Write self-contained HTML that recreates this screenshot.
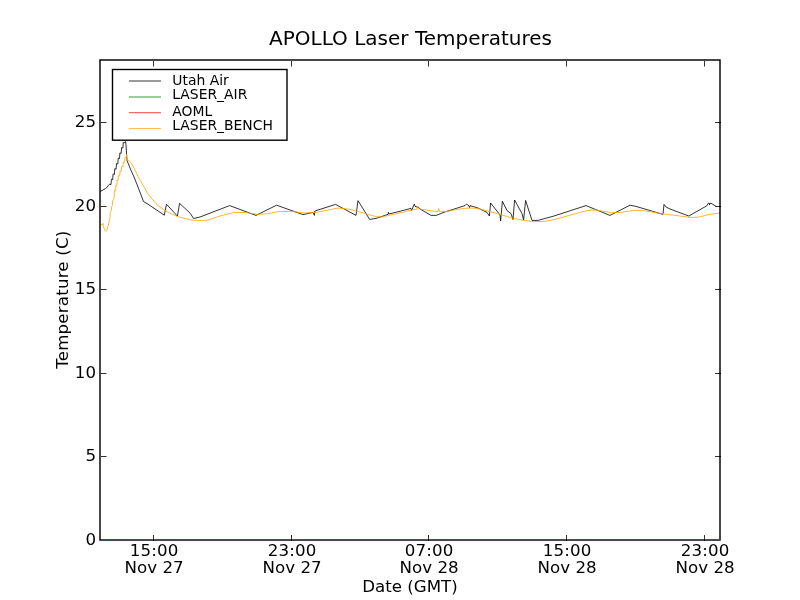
<!DOCTYPE html>
<html><head><meta charset="utf-8"><title>APOLLO Laser Temperatures</title>
<style>
html,body{margin:0;padding:0;background:#fff;}
svg{display:block;}
text{font-family:"DejaVu Sans","Liberation Sans",sans-serif;fill:#000;}
.tk{font-size:16.67px;}
.lg{font-size:13.9px;}
</style></head><body>
<svg width="800" height="600" viewBox="0 0 800 600">
<rect x="0" y="0" width="800" height="600" fill="#fff"/>
<text x="410.5" y="45" text-anchor="middle" font-size="20px">APOLLO Laser Temperatures</text>
<g fill="none" stroke-linejoin="miter">
<polyline points="100.0,191.5 103.0,190.0 105.5,188.5 107.5,187.0 108.0,185.8 109.8,184.0 111.0,184.6 111.4,179.3 112.7,179.7 113.1,174.0 114.4,174.4 114.8,168.7 116.1,169.1 116.5,163.5 117.8,163.9 118.2,158.2 119.5,158.6 119.9,152.9 121.2,153.3 121.6,147.6 122.9,148.0 123.3,142.3 124.6,142.7 125.5,141.5 126.0,145.0 126.5,153.0 127.0,160.5 130.0,168.0 134.0,177.0 138.0,187.0 143.5,201.5 148.0,204.2 164.3,215.2 166.5,204.2 177.4,216.1 179.6,203.3 190.3,213.4 193.6,218.5 200.0,217.0 229.6,205.6 256.0,215.4 276.6,205.2 303.0,214.6 313.0,212.4 314.4,215.4 314.8,211.0 335.6,204.4 356.0,215.4 358.0,200.6 369.6,219.4 376.0,218.4 388.0,214.4 388.4,212.4 389.0,214.0 411.0,208.4 411.6,210.4 414.4,204.0 415.0,206.4 419.0,207.6 420.0,209.0 431.0,215.4 436.0,215.4 446.0,211.6 465.0,205.6 466.6,204.0 469.0,206.0 469.6,207.6 470.0,205.6 478.0,208.0 479.0,208.6 487.0,212.4 489.4,216.0 490.6,203.0 500.0,215.0 500.6,221.0 502.4,201.2 507.0,210.6 511.0,213.6 513.0,219.6 514.6,200.0 522.0,213.6 523.6,220.0 525.6,200.4 532.0,220.4 538.0,220.4 554.0,216.0 586.0,205.6 610.0,215.4 630.0,205.2 636.0,206.4 663.0,214.4 664.0,204.4 666.0,207.0 670.0,209.0 688.8,216.0 706.8,205.8 708.2,203.3 709.2,203.3 709.5,205.0 709.8,203.3 711.0,203.3 716.5,206.5 720.0,206.5" stroke="#000" stroke-width="0.8"/>
<polyline points="100.3,224.3 102.0,225.0 103.0,223.3 103.3,226.3 104.7,229.7 105.7,231.3 107.0,229.7 108.0,226.3 109.0,222.3 110.0,217.7 110.3,211.7 111.3,210.7 111.7,206.3 112.3,205.7 112.7,200.3 114.0,199.0 114.3,195.0 114.6,190.0 115.6,190.4 115.9,185.0 116.8,185.4 117.1,180.0 118.1,180.4 118.5,175.5 119.7,175.9 120.1,171.0 121.3,171.4 121.7,166.5 123.0,166.9 123.4,162.0 124.6,162.4 125.0,157.5 126.2,157.9 126.5,154.5 127.0,160.0 129.0,160.5 132.0,164.0 135.0,170.0 138.0,176.5 140.8,181.3 148.1,194.1 157.3,205.1 168.3,212.4 177.4,216.5 190.3,219.8 201.3,220.7 208.0,220.0 220.0,216.0 234.0,212.4 246.0,212.6 258.0,214.4 268.0,213.6 280.0,211.4 292.0,211.4 304.0,213.0 316.0,212.4 328.0,210.0 338.0,208.0 348.0,209.0 360.0,212.0 368.0,214.4 376.0,216.6 382.0,217.0 390.0,215.0 402.0,212.4 412.0,210.0 417.0,209.0 417.6,206.0 418.4,208.8 426.0,210.0 434.0,211.2 438.0,211.4 438.8,208.6 439.6,211.4 446.0,211.6 454.0,210.0 464.0,208.4 472.0,208.0 480.0,209.0 490.0,211.6 500.0,214.4 512.0,218.0 524.0,220.4 534.0,221.6 544.0,221.4 554.0,219.6 566.0,216.4 580.0,212.4 588.0,210.4 596.0,210.0 604.0,211.4 612.0,212.8 620.0,212.4 630.0,211.0 634.0,210.4 642.0,210.4 652.0,212.0 664.0,214.0 680.0,216.0 689.0,217.2 694.0,217.4 698.0,217.2 704.0,215.8 708.0,214.8 714.0,213.7 720.0,213.2" stroke="#ffa500" stroke-width="0.8"/>
</g>
<rect x="100" y="60" width="620" height="480" fill="none" stroke="#000" stroke-width="1.45"/>
<g shape-rendering="crispEdges"><rect x="101" y="539" width="619" height="1" fill="#008000" opacity="0.5"/><rect x="101" y="539" width="619" height="1" fill="#ff1a10" opacity="0.45"/><rect x="101" y="539" width="619" height="1" fill="#7e3a1a" opacity="0.6"/></g>
<g fill="#303030" shape-rendering="crispEdges">
<rect x="153" y="535" width="1" height="4"/><rect x="153" y="539" width="1" height="2" fill="#000"/><rect x="153" y="61" width="1" height="5"/><rect x="153" y="66" width="1" height="1" opacity="0.5"/>
<rect x="291" y="535" width="1" height="4"/><rect x="291" y="539" width="1" height="2" fill="#000"/><rect x="291" y="61" width="1" height="5"/><rect x="291" y="66" width="1" height="1" opacity="0.5"/>
<rect x="428" y="535" width="1" height="4"/><rect x="428" y="539" width="1" height="2" fill="#000"/><rect x="428" y="61" width="1" height="5"/><rect x="428" y="66" width="1" height="1" opacity="0.5"/>
<rect x="566" y="535" width="1" height="4"/><rect x="566" y="539" width="1" height="2" fill="#000"/><rect x="566" y="61" width="1" height="5"/><rect x="566" y="66" width="1" height="1" opacity="0.5"/>
<rect x="704" y="535" width="1" height="4"/><rect x="704" y="539" width="1" height="2" fill="#000"/><rect x="704" y="61" width="1" height="5"/><rect x="704" y="66" width="1" height="1" opacity="0.5"/>
<rect x="101" y="456" width="5" height="1"/><rect x="106" y="456" width="1" height="1" opacity="0.5"/><rect x="715" y="456" width="4" height="1"/><rect x="719" y="456" width="2" height="1" fill="#000"/>
<rect x="101" y="373" width="5" height="1"/><rect x="106" y="373" width="1" height="1" opacity="0.5"/><rect x="715" y="373" width="4" height="1"/><rect x="719" y="373" width="2" height="1" fill="#000"/>
<rect x="101" y="289" width="5" height="1"/><rect x="106" y="289" width="1" height="1" opacity="0.5"/><rect x="715" y="289" width="4" height="1"/><rect x="719" y="289" width="2" height="1" fill="#000"/>
<rect x="101" y="206" width="5" height="1"/><rect x="106" y="206" width="1" height="1" opacity="0.5"/><rect x="715" y="206" width="4" height="1"/><rect x="719" y="206" width="2" height="1" fill="#000"/>
<rect x="101" y="122" width="5" height="1"/><rect x="106" y="122" width="1" height="1" opacity="0.5"/><rect x="715" y="122" width="4" height="1"/><rect x="719" y="122" width="2" height="1" fill="#000"/>
</g>
<text class="tk" x="154.1" y="556" text-anchor="middle" style="letter-spacing:0.15px">15:00</text><text class="tk" x="154.1" y="573" text-anchor="middle">Nov 27</text>
<text class="tk" x="292.1" y="556" text-anchor="middle" style="letter-spacing:0.15px">23:00</text><text class="tk" x="292.1" y="573" text-anchor="middle">Nov 27</text>
<text class="tk" x="429.1" y="556" text-anchor="middle" style="letter-spacing:0.15px">07:00</text><text class="tk" x="429.1" y="573" text-anchor="middle">Nov 28</text>
<text class="tk" x="567.1" y="556" text-anchor="middle" style="letter-spacing:0.15px">15:00</text><text class="tk" x="567.1" y="573" text-anchor="middle">Nov 28</text>
<text class="tk" x="705.1" y="556" text-anchor="middle" style="letter-spacing:0.15px">23:00</text><text class="tk" x="705.1" y="573" text-anchor="middle">Nov 28</text>
<text class="tk" x="96" y="544.5" text-anchor="end">0</text>
<text class="tk" x="96" y="461" text-anchor="end">5</text>
<text class="tk" x="96" y="378" text-anchor="end">10</text>
<text class="tk" x="96" y="294" text-anchor="end">15</text>
<text class="tk" x="96" y="211" text-anchor="end">20</text>
<text class="tk" x="96" y="127" text-anchor="end">25</text>
<text class="tk" x="410" y="592" text-anchor="middle">Date (GMT)</text>
<text class="tk" transform="translate(68,299.7) rotate(-90)" text-anchor="middle" style="letter-spacing:0.18px">Temperature (C)</text>
<rect x="112.5" y="69.5" width="174.5" height="70.7" fill="#fff" stroke="#000" stroke-width="1.39"/>
<line x1="129" y1="81.0" x2="161" y2="81.0" stroke="#000" stroke-width="0.8"/><text class="lg" x="172.3" y="84.6">Utah Air</text>
<line x1="129" y1="97.0" x2="161" y2="97.0" stroke="#008000" stroke-width="0.8"/><text class="lg" x="172.3" y="98.8">LASER_AIR</text>
<line x1="129" y1="112.7" x2="161" y2="112.7" stroke="#ff0000" stroke-width="0.74"/><text class="lg" x="172.3" y="115.8">AOML</text>
<line x1="129" y1="128.5" x2="161" y2="128.5" stroke="#ffa500" stroke-width="0.7"/><text class="lg" x="172.3" y="129.5">LASER_BENCH</text>
</svg></body></html>
